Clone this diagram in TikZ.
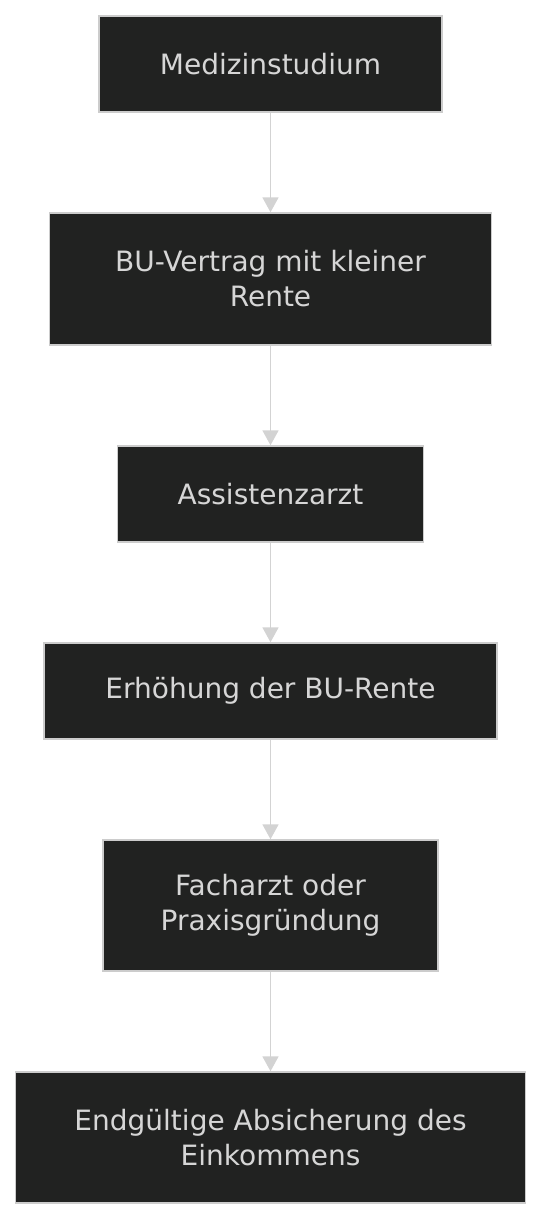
\documentclass[tikz,border=0pt]{standalone}
\usepackage{fontspec}
\setmainfont{DejaVu Sans}
\usetikzlibrary{arrows.meta}
\definecolor{boxfill}{RGB}{33,34,33}
\definecolor{boxline}{RGB}{204,204,204}
\definecolor{boxtext}{RGB}{214,214,214}
\definecolor{flowline}{RGB}{211,211,211}
\begin{document}
\begin{tikzpicture}[x=1pt,y=-1pt,
    stage/.style={draw=boxline,line width=1.5pt,fill=boxfill,text=boxtext,align=center,
      inner sep=0pt,font=\fontsize{28}{35}\selectfont},
    flow/.style={draw=flowline,line width=1.8pt,-{Triangle[width=16pt,length=15pt]}}]
    \useasboundingbox[fill=white] (0,0) rectangle (542,1220);
    \node[stage,minimum width=343pt,minimum height=96pt] (studium) at (270.5,64) {Medizinstudium};
    \node[stage,minimum width=442pt,minimum height=132pt] (vertrag) at (270.5,279) {BU-Vertrag mit kleiner\\Rente};
    \node[stage,minimum width=306pt,minimum height=96pt] (assistenz) at (270.5,494) {Assistenzarzt};
    \node[stage,minimum width=453pt,minimum height=96pt] (erhoehung) at (270.5,691) {Erhöhung der BU-Rente};
    \node[stage,minimum width=335pt,minimum height=131pt] (facharzt) at (270.5,905.5) {Facharzt oder\\Praxisgründung};
    \node[stage,minimum width=510pt,minimum height=131pt] (absicherung) at (270.5,1137.5) {Endgültige Absicherung des\\Einkommens};
    \draw[flow] (studium) -- (vertrag);
    \draw[flow] (vertrag) -- (assistenz);
    \draw[flow] (assistenz) -- (erhoehung);
    \draw[flow] (erhoehung) -- (facharzt);
    \draw[flow] (facharzt) -- (absicherung);
  \end{tikzpicture}
\end{document}
